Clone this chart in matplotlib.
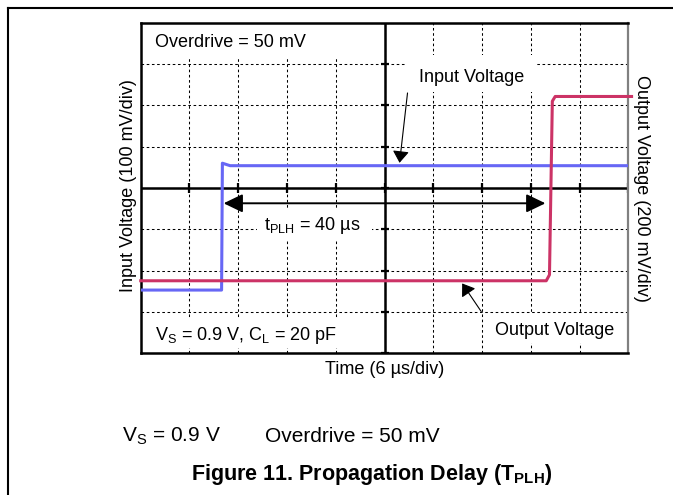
import matplotlib
matplotlib.use('Agg')
import matplotlib.pyplot as plt
from matplotlib.patches import Rectangle
from matplotlib.lines import Line2D

plt.rcParams['font.family'] = ['Liberation Sans', 'DejaVu Sans']
plt.rcParams['mathtext.fontset'] = 'custom'
plt.rcParams['mathtext.rm'] = 'Liberation Sans'
plt.rcParams['mathtext.it'] = 'Liberation Sans:italic'
plt.rcParams['mathtext.bf'] = 'Liberation Sans:bold'

# ---- data ----
time_in_us = [-30.0, -20.05, -19.95, -19.0, 30.0]
input_mV = [-247, -247, 60, 54, 54]
time_out_us = [-30.0, 19.9, 20.3, 20.65, 21.0, 30.4]
output_mV = [-449, -449, -420, 420, 443, 443]

time_ticks = list(range(-30, 31, 6))       # 6 us/div
input_ticks = list(range(-400, 401, 100))  # 100 mV/div
output_lim = (-800, 800)                   # 200 mV/div
tplh_us = (-19.8, 19.8)

BLUE = '#6767f5'
RED = '#cc3366'
FS = 13

fig = plt.figure(figsize=(6.73, 4.95), dpi=100)
ax = fig.add_axes([0.2091, 0.2863, 0.7245, 0.6678])
ax.set_xlim(time_ticks[0], time_ticks[-1])
ax.set_ylim(input_ticks[0], input_ticks[-1])
ax.set_xticks(time_ticks)
ax.set_yticks(input_ticks)
ax.tick_params(length=0, labelbottom=False, labelleft=False)
ax.set_axisbelow(True)
ax.grid(True, color='black', lw=0.75, ls=(0, (2.5, 2.5)))
for s in ['left', 'top', 'bottom']:
    ax.spines[s].set_linewidth(1.8)
    ax.spines[s].set_color('black')
ax.spines['right'].set_linewidth(1.6)
ax.spines['right'].set_color('#808080')

# center cross with division ticks
ax.axhline(0, color='black', lw=1.8, zorder=2)
ax.axvline(0, color='black', lw=1.8, zorder=2)
ax.plot(time_ticks, [0] * len(time_ticks), ls='none', marker='|', ms=7,
        mew=1.6, color='black', zorder=2)
ax.plot([0] * len(input_ticks), input_ticks, ls='none', marker='_', ms=6,
        mew=1.6, color='black', zorder=2)

# white boxes behind labels (hide grid)
for (x0, x1, y0, y1) in [(-30, -2.5, 317, 400), (2.8, 18.7, 232, 322),
                         (-15.75, -1.6, -126, -53), (-30, -4.9, -387, -315),
                         (12.6, 29.8, -375, -305)]:
    ax.add_patch(Rectangle((x0, y0), x1 - x0, y1 - y0, facecolor='white',
                           edgecolor='none', zorder=1))

ax.plot(time_in_us, input_mV, color=BLUE, lw=2.2, zorder=3)

ax.text(-28.3, 352, 'Overdrive = 50 mV', fontsize=FS, va='center', ha='left')
ax.text(-28.3, -356, r'V$_\mathrm{S}$ = 0.9 V, C$_\mathrm{L}$ = 20 pF',
        fontsize=FS, va='center', ha='left')
ax.text(10.67, 267, 'Input Voltage', fontsize=FS, va='center', ha='center')
ax.text(20.9, -344, 'Output Voltage', fontsize=FS, va='center', ha='center')
ax.text(-8.86, -91, r't$_\mathrm{PLH}$ = 40 µs', fontsize=FS, va='center',
        ha='center')

ax.annotate('', xy=(1.85, 61), xytext=(2.83, 230),
            arrowprops=dict(arrowstyle='-|>,head_length=0.36,head_width=0.25',
                            mutation_scale=20, lw=0.8, color='black',
                            shrinkA=0, shrinkB=0), zorder=4)
ax.annotate('', xy=(9.56, -231), xytext=(11.9, -299),
            arrowprops=dict(arrowstyle='-|>,head_length=0.36,head_width=0.25',
                            mutation_scale=20, lw=0.8, color='black',
                            shrinkA=0, shrinkB=0), zorder=4)
ax.annotate('', xy=(tplh_us[0], -37), xytext=(tplh_us[1], -37),
            arrowprops=dict(arrowstyle='<|-|>,head_length=0.58,head_width=0.28',
                            mutation_scale=20, lw=1.4, color='black',
                            shrinkA=0, shrinkB=0), zorder=4)

ax2 = ax.twinx()
ax2.set_ylim(*output_lim)
ax2.set_yticks([])
for s in ax2.spines.values():
    s.set_visible(False)
ax2.plot(time_out_us, output_mV, color=RED, lw=2.2, zorder=3, clip_on=False)

# axis labels
fig.text(0.5713, 0.2545, 'Time (6 µs/div)', fontsize=FS, ha='center', va='center')
fig.text(0.1902, 0.6242, 'Input Voltage (100 mV/div)', fontsize=FS,
         rotation=90, ha='center', va='center')
fig.text(0.9535, 0.6202, 'Output Voltage (200 mV/div)', fontsize=FS,
         rotation=-90, ha='center', va='center')

# caption
fig.text(121.7 / 673, 1 - 441.7 / 495, r'V$_\mathrm{S}$ = 0.9 V', fontsize=15,
         ha='left', va='baseline')
fig.text(265 / 673, 1 - 441.7 / 495, 'Overdrive = 50 mV', fontsize=15,
         ha='left', va='baseline')
fig.text(371.7 / 673, 1 - 480 / 495,
         r'Figure 11. Propagation Delay (T$_\mathbf{PLH}$)', fontsize=15.5,
         fontweight='bold', ha='center', va='baseline')

# page border lines
fig.add_artist(Line2D([8 / 673, 1], [1 - 8 / 495] * 2, transform=fig.transFigure,
                      color='black', lw=1.5))
fig.add_artist(Line2D([8 / 673] * 2, [0, 1 - 8 / 495], transform=fig.transFigure,
                      color='black', lw=1.5))

fig.savefig('out.png', dpi=100)
